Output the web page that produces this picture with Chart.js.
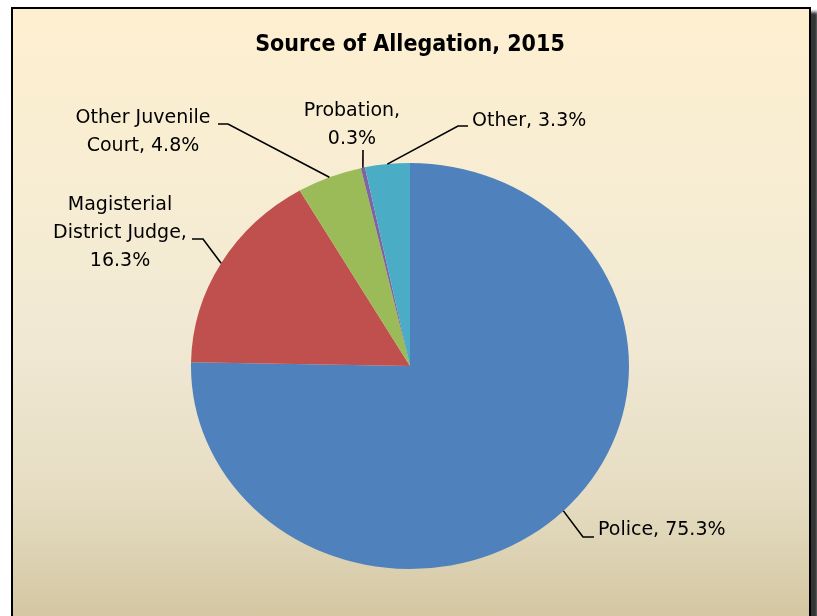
<!DOCTYPE html>
<html>
<head>
<meta charset="utf-8">
<script src="https://cdn.jsdelivr.net/npm/chart.js@4.4.1/dist/chart.umd.min.js"></script>
<style>
  html, body { margin: 0; padding: 0; background: #fff; overflow: hidden; }
  #frame {
    position: absolute; left: 11px; top: 7px; width: 796px; height: 612px;
    border: 2px solid #000;
    background: linear-gradient(to bottom, #feefd0 0%, #f7edd3 30%, #f0e8d3 55%, #e5dcc2 80%, #d3c6a1 100%);
    box-shadow: 7px 5px 3px rgba(30,30,30,0.9);
  }
  #wrap { position: absolute; left: 0; top: 0; width: 817px; height: 616px; }
</style>
</head>
<body>
<div id="frame"></div>
<div id="wrap"><canvas id="chart" width="817" height="616"></canvas></div>
<script>
const categories = ['Police', 'Magisterial District Judge', 'Other Juvenile Court', 'Probation', 'Other'];
const shares = [75.3, 16.3, 4.8, 0.3, 3.3];
const sliceColors = ['#4f81bd', '#c0504d', '#9bbb59', '#8064a2', '#4bacc6'];
const labelLines = [
  ['Police, 75.3%'],
  ['Magisterial', 'District Judge,', '16.3%'],
  ['Other Juvenile', 'Court, 4.8%'],
  ['Probation,', '0.3%'],
  ['Other, 3.3%']
];

// where each data label sits and where its leader line bends
const labelPos = [
  { x: 598, y: 530, align: 'left',   knee: [583, 537], end: [594, 537] },
  { x: 120, y: 205, align: 'center', knee: [203, 239], end: [192, 239] },
  { x: 143, y: 118, align: 'center', knee: [228, 124], end: [218, 124] },
  { x: 352, y: 111, align: 'center', knee: [363, 150], end: [363, 150] },
  { x: 472, y: 121, align: 'left',   knee: [458, 126], end: [468, 126] }
];

// excel's pie is a bit wider than tall
let stretchX = 219 / 203, stretchY = 1;

const ellipsePlugin = {
  id: 'ellipse',
  beforeDatasetsDraw(chart) {
    let arc = chart.getDatasetMeta(0).data[0];
    let ctx = chart.ctx;
    ctx.save();
    ctx.translate(arc.x, arc.y);
    ctx.scale(stretchX, stretchY);
    ctx.translate(-arc.x, -arc.y);
  },
  afterDatasetsDraw(chart) {
    chart.ctx.restore();
    let ctx = chart.ctx;
    let meta = chart.getDatasetMeta(0);
    ctx.save();
    ctx.strokeStyle = '#000';
    ctx.lineWidth = 1.6;
    ctx.fillStyle = '#000';
    ctx.font = '19px "DejaVu Sans", Verdana, sans-serif';
    ctx.textBaseline = 'middle';
    meta.data.forEach((arc, i) => {
      let mid = (arc.startAngle + arc.endAngle) / 2;
      let px = arc.x + Math.cos(mid) * arc.outerRadius * stretchX;
      let py = arc.y + Math.sin(mid) * arc.outerRadius * stretchY;
      let lp = labelPos[i];
      ctx.beginPath();
      ctx.moveTo(px, py);
      ctx.lineTo(lp.knee[0], lp.knee[1]);
      ctx.lineTo(lp.end[0], lp.end[1]);
      ctx.stroke();
      ctx.textAlign = lp.align;
      labelLines[i].forEach((line, j) => {
        ctx.fillText(line, lp.x, lp.y + j * 28);
      });
    });
    ctx.restore();
  }
};

new Chart(document.getElementById('chart'), {
  type: 'pie',
  data: {
    labels: categories,
    datasets: [{
      data: shares,
      backgroundColor: sliceColors,
      borderWidth: 0
    }]
  },
  options: {
    responsive: false,
    animation: false,
    layout: { padding: { top: 20, left: 207, right: 204, bottom: 47 } },
    plugins: {
      legend: { display: false },
      tooltip: { enabled: false },
      title: {
        display: true,
        text: 'Source of Allegation, 2015',
        color: '#000',
        font: { family: '"DejaVu Sans Condensed", "DejaVu Sans", sans-serif', size: 23, weight: 'bold', lineHeight: 1.2 },
        padding: { top: 11, bottom: 104.4 }
      }
    }
  },
  plugins: [ellipsePlugin]
});
</script>
</body>
</html>
